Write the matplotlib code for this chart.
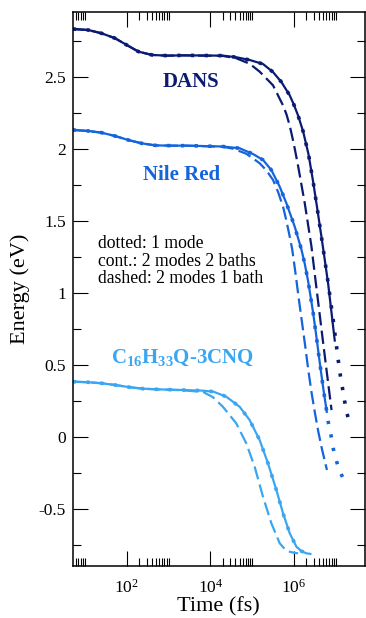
import numpy as np
import matplotlib
matplotlib.use("Agg")
import matplotlib.pyplot as plt
from matplotlib.ticker import FixedLocator, NullFormatter

plt.rcParams['font.family'] = ['Liberation Serif', 'DejaVu Serif']
plt.rcParams['mathtext.fontset'] = 'custom'
plt.rcParams['mathtext.rm'] = 'Liberation Serif'
plt.rcParams['mathtext.it'] = 'Liberation Serif:italic'
plt.rcParams['mathtext.bf'] = 'Liberation Serif:bold'

# ---- data: log10(time / fs) and energy (eV) ----
dans_solid_logt = [0.71, 1.08, 1.40, 1.72, 2.00, 2.28, 2.60, 2.96, 3.35, 4.30, 4.62, 4.94, 5.26, 5.50,
                   5.70, 5.90, 6.00, 6.10, 6.22, 6.35, 6.46, 6.55, 6.65, 6.72, 6.82, 6.90, 6.98]
dans_solid_e = [2.831, 2.824, 2.801, 2.767, 2.720, 2.674, 2.651, 2.646, 2.648, 2.646, 2.635, 2.616, 2.588, 2.532,
                2.463, 2.370, 2.305, 2.230, 2.120, 1.960, 1.770, 1.600, 1.405, 1.265, 1.060, 0.860, 0.660]

dans_dot_logt = [0.71, 1.08, 1.40, 1.72, 2.00, 2.28, 2.60, 2.96, 3.35, 4.30, 4.62, 4.94, 5.26, 5.50,
                 5.70, 5.90, 6.00, 6.10, 6.22, 6.35, 6.46, 6.55, 6.65, 6.72, 6.82, 6.94, 7.02, 7.06,
                 7.10, 7.15, 7.20, 7.26, 7.33]
dans_dot_e = [2.831, 2.824, 2.801, 2.767, 2.720, 2.674, 2.651, 2.646, 2.648, 2.646, 2.635, 2.616, 2.588, 2.532,
              2.463, 2.370, 2.305, 2.230, 2.120, 1.960, 1.770, 1.600, 1.405, 1.265, 1.065, 0.810, 0.625, 0.533,
              0.444, 0.359, 0.267, 0.174, 0.093]

dans_dash_logt = [0.71, 1.08, 1.40, 1.72, 2.00, 2.28, 2.60, 2.96, 3.35, 4.30, 4.62, 4.94, 5.18, 5.50,
                  5.74, 5.82, 5.90, 6.00, 6.10, 6.26, 6.42, 6.54, 6.70, 6.90]
dans_dash_e = [2.831, 2.824, 2.801, 2.767, 2.720, 2.674, 2.651, 2.646, 2.648, 2.644, 2.628, 2.590, 2.535, 2.440,
               2.300, 2.240, 2.160, 2.030, 1.880, 1.620, 1.320, 1.030, 0.650, 0.185]

nile_solid_logt = [0.71, 1.08, 1.40, 1.72, 2.04, 2.36, 2.68, 3.04, 3.43, 4.30, 4.70, 5.02, 5.26, 5.46,
                   5.66, 5.82, 6.02, 6.18, 6.26, 6.34, 6.40, 6.46, 6.54, 6.62, 6.70, 6.79]
nile_solid_e = [2.130, 2.123, 2.111, 2.088, 2.060, 2.037, 2.023, 2.021, 2.021, 2.015, 2.003, 1.963, 1.922, 1.852,
                1.736, 1.621, 1.458, 1.300, 1.200, 1.080, 0.970, 0.860, 0.690, 0.510, 0.340, 0.165]

nile_dot_logt = nile_solid_logt + [6.82, 6.89, 6.94, 7.01, 7.10, 7.22]
nile_dot_e = nile_solid_e + [0.104, 0.005, -0.081, -0.162, -0.243, -0.313]

nile_dash_logt = [0.71, 1.08, 1.40, 1.72, 2.04, 2.36, 2.68, 3.04, 3.43, 4.30, 4.54, 4.86, 5.18, 5.34,
                  5.50, 5.62, 5.74, 5.82, 5.90, 5.96, 6.04, 6.12, 6.20, 6.27, 6.35, 6.42, 6.50, 6.58,
                  6.67, 6.79]
nile_dash_e = [2.130, 2.123, 2.111, 2.088, 2.060, 2.037, 2.023, 2.021, 2.021, 2.013, 2.000, 1.965, 1.899, 1.850,
               1.783, 1.700, 1.597, 1.500, 1.389, 1.300, 1.130, 0.950, 0.780, 0.630, 0.450, 0.310, 0.170, 0.040,
               -0.085, -0.231]

cnq_solid_logt = [0.71, 1.08, 1.40, 1.72, 2.08, 2.40, 2.72, 3.35, 3.80, 4.07, 4.38, 4.70, 4.94, 5.18,
                  5.38, 5.58, 5.74, 5.90, 6.06, 6.18, 6.30, 6.42]
cnq_solid_e = [0.382, 0.378, 0.371, 0.359, 0.343, 0.333, 0.329, 0.324, 0.320, 0.313, 0.278, 0.208, 0.116, -0.023,
               -0.185, -0.370, -0.532, -0.671, -0.764, -0.795, -0.810, -0.815]

cnq_dot_logt = cnq_solid_logt[:-1] + [6.46]
cnq_dot_e = cnq_solid_e[:-1] + [-0.817]

cnq_dash_logt = [0.71, 1.08, 1.40, 1.72, 2.08, 2.40, 2.72, 3.35, 3.83, 4.06, 4.30, 4.62, 4.86, 5.06,
                 5.26, 5.46, 5.66, 5.78, 5.90, 6.00, 6.10]
cnq_dash_e = [0.382, 0.378, 0.371, 0.359, 0.343, 0.333, 0.329, 0.322, 0.310, 0.275, 0.208, 0.093, -0.046, -0.208,
              -0.417, -0.601, -0.740, -0.780, -0.799, -0.806, -0.810]

molecules = ["DANS", "Nile Red", r"C$_{\mathbf{16}}$H$_{\mathbf{33}}$Q-3CNQ"]
colors = ["#0b1a72", "#1464dc", "#3aa6f2"]

x_major = [1e2, 1e4, 1e6]
x_major_labels = [r"$\mathregular{10^{2}}$", r"$\mathregular{10^{4}}$", r"$\mathregular{10^{6}}$"]
y_major = [-0.5, 0, 0.5, 1, 1.5, 2, 2.5]
y_major_labels = ["-0.5", "0", "0.5", "1", "1.5", "2", "2.5"]

legend_lines = ["dotted: 1 mode", "cont.: 2 modes 2 baths", "dashed: 2 modes 1 bath"]

# ---- figure ----
W, H = 366, 618
fig = plt.figure(figsize=(W / 100, H / 100), dpi=100)
left, right, top, bottom = 72.7, 365.0, 12.3, 566.0
ax = fig.add_axes([left / W, 1 - bottom / H, (right - left) / W, (bottom - top) / H])
ax.set_xscale("log")

lw = 1.6
curves = [
    (dans_solid_logt, dans_solid_e, dans_dash_logt, dans_dash_e, dans_dot_logt, dans_dot_e),
    (nile_solid_logt, nile_solid_e, nile_dash_logt, nile_dash_e, nile_dot_logt, nile_dot_e),
    (cnq_solid_logt, cnq_solid_e, cnq_dash_logt, cnq_dash_e, cnq_dot_logt, cnq_dot_e),
]
for (sl, se, dl, de, pl, pe), c in zip(curves, colors):
    ax.plot(np.power(10.0, dl), de, color=c, lw=lw, dashes=(6.0, 2.4))
    ax.plot(np.power(10.0, sl), se, color=c, lw=lw, solid_capstyle="butt", solid_joinstyle="round")
    ax.plot(np.power(10.0, pl), pe, color=c, lw=2.6, dashes=(0.9, 2.9), dash_capstyle="butt")

ax.set_xlim(5.1, 5.02e7)
ax.set_ylim(-0.898, 2.947)

ax.xaxis.set_major_locator(FixedLocator(x_major))
ax.set_xticklabels(x_major_labels)
minor_x = [k * 10.0 ** e for e in (0, 2, 4, 6) for k in range(2, 11)]
ax.xaxis.set_minor_locator(FixedLocator(minor_x))
ax.xaxis.set_minor_formatter(NullFormatter())

ax.yaxis.set_major_locator(FixedLocator(y_major))
ax.set_yticklabels(y_major_labels)
ax.yaxis.set_minor_locator(FixedLocator(np.arange(-0.75, 3.0, 0.5)))

for s in ax.spines.values():
    s.set_linewidth(1.1)
ax.tick_params(which="both", direction="in", top=True, right=True, width=0.8, labelsize=12.5)
ax.tick_params(which="major", length=11, pad=5)
ax.tick_params(which="minor", length=5.5)
ax.tick_params(axis="x", which="major", pad=9)

ax.set_xlabel("Time (fs)", fontsize=16, labelpad=0.5)
ax.set_ylabel("Energy (eV)", fontsize=16, labelpad=6)

label_pos = [(3450, 2.426), (2100, 1.783), (2140, 0.512)]
for name, c, (tx, ty) in zip(molecules, colors, label_pos):
    ax.text(tx, ty, name, color=c, fontsize=15, fontweight="bold", ha="center", va="baseline")

for i, line in enumerate(legend_lines):
    ax.text(20.9, 1.308 - i * 0.12, line, fontsize=12.7, ha="left", va="baseline", color="black")

fig.savefig("out.png", dpi=100)
